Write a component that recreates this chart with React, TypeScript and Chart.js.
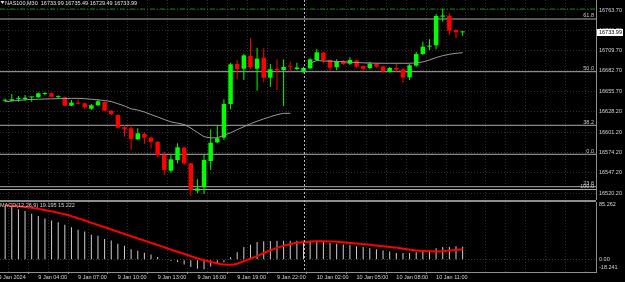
import React, { useEffect, useRef } from "react";
import { Chart, registerables } from "chart.js";

Chart.register(...registerables);

// ---------- data ----------
const symbolTitle = "NAS100,M30  16733.99 16735.49 16729.49 16733.99";
const indicatorTitle = "MACD(12,26,9) 19.195 15.222";

const opens = [
  16643.0, 16643.0, 16645.1, 16645.3, 16647.4, 16647.5, 16651.9, 16652.9, 16647.8, 16647.5,
  16636.4, 16639.9, 16639.5, 16632.4, 16636.9, 16641.3, 16629.7, 16624.0, 16607.6, 16606.3,
  16591.6, 16598.7, 16593.8, 16588.4, 16570.7, 16549.9, 16564.1, 16580.5, 16559.7, 16523.2,
  16527.8, 16562.8, 16587.6, 16593.8, 16638.6, 16691.8, 16685.6, 16702.5, 16685.6, 16700.2,
  16673.6, 16685.2, 16683.9, 16689.2, 16685.2, 16682.1, 16686.1, 16697.2, 16706.9, 16697.2,
  16687.5, 16695.8, 16692.2, 16696.5, 16689.2, 16686.5, 16692.5, 16688.3, 16681.2, 16686.5,
  16684.8, 16674.1, 16689.6, 16705.1, 16714.9, 16716.7, 16754.8, 16756.1, 16737.1, 16733.99,
];
const highs = [
  16645.7, 16651.9, 16649.3, 16650.6, 16648.3, 16653.7, 16654.2, 16653.7, 16650.2, 16648.3,
  16643.9, 16644.9, 16640.3, 16638.6, 16644.9, 16642.2, 16630.6, 16624.6, 16610.7, 16610.7,
  16606.3, 16600.4, 16595.1, 16589.4, 16575.1, 16570.7, 16586.3, 16581.8, 16560.5, 16538.4,
  16572.1, 16604.9, 16609.3, 16644.9, 16693.6, 16697.2, 16704.7, 16726.0, 16713.5, 16712.7,
  16691.8, 16698.1, 16698.1, 16694.9, 16693.6, 16688.3, 16699.4, 16711.4, 16708.2, 16698.1,
  16698.1, 16697.2, 16700.8, 16697.6, 16690.1, 16694.9, 16693.6, 16690.1, 16688.3, 16692.8,
  16686.1, 16691.8, 16708.2, 16721.5, 16724.7, 16758.4, 16765.0, 16759.3, 16738.0, 16735.49,
];
const lows = [
  16641.3, 16642.2, 16641.7, 16643.0, 16641.7, 16646.6, 16650.2, 16647.5, 16645.3, 16636.0,
  16636.0, 16638.6, 16631.6, 16630.6, 16636.0, 16628.9, 16623.6, 16606.7, 16595.1, 16577.4,
  16590.7, 16585.4, 16579.7, 16568.5, 16544.1, 16547.2, 16559.7, 16557.4, 16516.6, 16519.8,
  16518.8, 16550.8, 16586.3, 16590.7, 16631.6, 16671.9, 16670.6, 16684.8, 16656.3, 16667.5,
  16661.6, 16657.2, 16636.0, 16681.6, 16683.9, 16680.3, 16684.8, 16696.2, 16692.8, 16682.9,
  16683.9, 16690.5, 16690.5, 16686.5, 16682.9, 16684.8, 16686.5, 16680.3, 16680.3, 16681.6,
  16667.0, 16670.6, 16688.3, 16703.8, 16710.5, 16711.4, 16748.1, 16730.4, 16726.0, 16729.49,
];
const closes = [
  16644.3, 16644.9, 16645.5, 16647.0, 16647.6, 16652.9, 16652.9, 16648.3, 16648.0, 16636.4,
  16640.3, 16639.0, 16634.2, 16636.9, 16642.2, 16629.7, 16625.3, 16607.1, 16604.9, 16592.0,
  16599.6, 16593.8, 16588.4, 16570.3, 16550.8, 16565.0, 16581.0, 16559.7, 16524.2, 16526.4,
  16564.1, 16587.1, 16593.0, 16638.6, 16691.4, 16685.2, 16703.4, 16687.5, 16698.9, 16673.6,
  16684.8, 16683.5, 16687.9, 16688.3, 16687.2, 16686.5, 16698.1, 16707.4, 16697.2, 16686.9,
  16695.4, 16691.8, 16697.2, 16688.3, 16685.6, 16692.5, 16688.3, 16682.1, 16686.5, 16684.3,
  16673.9, 16690.1, 16705.1, 16714.9, 16716.2, 16755.7, 16756.4, 16736.2, 16734.0, 16733.99,
];
const maValues: (number | null)[] = [
  16641.5, 16642.6, 16643.4, 16644.2, 16644.7, 16645.0, 16645.3, 16645.5, 16645.7, 16645.9,
  16646.1, 16646.2, 16645.7, 16644.9, 16644.1, 16643.3, 16641.9, 16639.0, 16636.0, 16632.2,
  16630.6, 16628.0, 16624.6, 16621.4, 16618.0, 16614.8, 16613.1, 16611.3, 16606.7, 16600.7,
  16595.1, 16593.5, 16593.6, 16597.0, 16600.3, 16604.5, 16608.3, 16612.4, 16615.7, 16618.8,
  16621.7, 16624.4, 16626.2, 16626.2, null, null, 16692.8, 16696.5, 16695.8, 16695.6,
  16695.2, 16694.8, 16694.2, 16693.8, 16693.4, 16693.2, 16692.9, 16692.8, 16692.8, 16692.8,
  16692.8, 16692.8, 16693.4, 16694.6, 16697.2, 16700.4, 16702.9, 16704.7, 16706.1, 16706.9,
];
const macdValues = [
  79.5, 78.0, 74.4, 72.0, 67.9, 64.4, 60.8, 57.8, 55.4, 51.8,
  47.8, 44.2, 41.8, 36.7, 35.2, 30.6, 28.2, 23.7, 20.7, 15.5,
  13.1, 10.1, 7.5, 4.1, -0.8, -2.0, -3.5, -7.0, -11.0, -13.6,
  -14.0, -10.0, -6.5, -4.0, 3.5, 11.0, 18.6, 22.2, 26.1, 27.2,
  27.5, 27.8, 27.8, 27.8, 28.0, 28.0, 28.0, 28.0, 26.0, 24.6,
  23.6, 22.6, 22.2, 20.0, 18.6, 17.0, 15.5, 13.6, 12.0, 10.0,
  10.0, 10.0, 11.0, 12.0, 13.6, 17.0, 18.6, 18.6, 20.0, 19.195,
];
const signalValues = [
  80.3, 79.7, 78.8, 77.9, 76.7, 75.1, 73.3, 71.4, 69.3, 67.1,
  64.4, 61.1, 57.9, 54.6, 51.3, 48.0, 44.7, 41.3, 38.0, 34.7,
  31.4, 28.2, 24.9, 21.6, 18.3, 14.9, 11.6, 8.5, 5.1, 1.8,
  -0.9, -3.3, -5.6, -7.2, -7.5, -6.0, -2.3, 1.5, 5.3, 9.8,
  13.6, 17.4, 20.4, 22.9, 24.9, 26.1, 26.7, 27.2, 27.2, 26.9,
  26.4, 25.7, 24.7, 23.8, 22.9, 22.0, 20.8, 19.8, 18.9, 17.8,
  16.1, 14.6, 13.6, 12.8, 12.4, 12.1, 12.5, 13.6, 14.3, 15.222,
];
const priceTicks = [16763.7, 16736.7, 16709.7, 16682.7, 16655.7, 16628.2, 16601.2, 16574.2, 16547.2, 16520.2];
const fibPrices = [16751.7, 16681.6, 16610.3, 16571.7, 16528.6, 16524.8];
const fibNames = ["61.8", "50.0", "38.2", "0.0", "23.6", "100.0"];
const timeTickBars = [-1, 5, 11, 17, 23, 29, 35, 41, 47, 53, 59, 65];
const timeTickLabels = [
  "9 Jan 2024", "9 Jan 04:00", "9 Jan 07:00", "9 Jan 10:00", "9 Jan 13:00", "9 Jan 16:00",
  "9 Jan 19:00", "9 Jan 22:00", "10 Jan 02:00", "10 Jan 05:00", "10 Jan 08:00", "10 Jan 11:00",
];
const macdTicks = [85.262, 0, -18.241];
const macdTickLabels = ["85.262", "0.00", "-18.241"];
const dayHighLine = 16765.0;
const markerBar = 45;
const currentPrice = 16733.99;

// ---------- layout / style constants ----------
const X_MIN = -0.777;
const X_MAX = 89.117;
const PRICE_MIN = 16510.9;
const PRICE_MAX = 16777.0;
const AXIS_W = 29;
const FONT_FAMILY = '"Liberation Sans", Arial, sans-serif';
const FONT_SIZE = 5.5;
const FONT = `${FONT_SIZE}px ${FONT_FAMILY}`;
const BULL = "#00ff00";
const BEAR = "#ff0000";
const TEXT = "#d4d4d4";
const FRAME = "#8e8e8e";
const GRID = "#2f2f2f";

const gridBars: number[] = [];
for (let v = -1; v <= 89; v += 3) gridBars.push(v);

function fixY(scale: any) {
  scale.width = AXIS_W;
  scale.paddingTop = 0;
  scale.paddingBottom = 0;
}

export default function App() {
  const mainRef = useRef<HTMLCanvasElement>(null);
  const macdRef = useRef<HTMLCanvasElement>(null);

  useEffect(() => {
    document.body.style.margin = "0";
    document.body.style.background = "#000";

    const isBull = (i: number) => closes[i] >= opens[i];
    const colorOf = (c: any) => (isBull(c.dataIndex) ? BULL : BEAR);

    const wicks = opens.map((_, i) => ({ x: i, y: [lows[i], highs[i]] }));
    const bodies = opens.map((_, i) => ({ x: i, y: [opens[i], closes[i]] }));
    const ma = maValues.map((v, i) => ({ x: i, y: v }));
    const hist = macdValues.map((v, i) => ({ x: i, y: v }));
    const sig = signalValues.map((v, i) => ({ x: i, y: v }));

    const xCommon = (showLabels: boolean) => ({
      type: "linear" as const,
      position: "bottom" as const,
      min: X_MIN,
      max: X_MAX,
      offset: false,
      afterBuildTicks: (s: any) => {
        s.ticks = gridBars.map((v) => ({ value: v }));
      },
      afterFit: (s: any) => {
        s.height = showLabels ? 10 : 0;
        s.paddingLeft = 0;
        s.paddingRight = 0;
      },
      ticks: {
        display: showLabels,
        autoSkip: false,
        maxRotation: 0,
        minRotation: 0,
        align: "start" as const,
        padding: 0,
        color: TEXT,
        font: { family: FONT_FAMILY, size: FONT_SIZE },
        callback: (v: any) => {
          const k = timeTickBars.indexOf(Number(v));
          return k >= 0 ? timeTickLabels[k] : "";
        },
      },
      grid: {
        color: GRID,
        lineWidth: 1,
        drawTicks: showLabels,
        tickLength: 2,
        tickColor: (c: any) =>
          c.tick && timeTickBars.indexOf(c.tick.value) >= 0 ? FRAME : "rgba(0,0,0,0)",
      },
      border: { display: showLabels, color: FRAME, width: 1, dash: [1, 2] },
    });

    const mainOverlay = {
      id: "mainOverlay",
      afterDatasetsDraw(chart: any) {
        const { ctx, chartArea, scales } = chart;
        const xs = scales.x;
        const ys = scales.y;
        ctx.save();
        const mx = Math.round(xs.getPixelForValue(markerBar)) + 0.5;
        ctx.strokeStyle = "#b8b8b8";
        ctx.lineWidth = 1;
        ctx.setLineDash([2, 2]);
        ctx.beginPath();
        ctx.moveTo(mx, chartArea.top);
        ctx.lineTo(mx, chartArea.bottom);
        ctx.stroke();
        ctx.setLineDash([]);
        ctx.font = FONT;
        ctx.fillStyle = "#c8c8c8";
        ctx.textAlign = "right";
        ctx.textBaseline = "bottom";
        fibPrices.forEach((p, k) => {
          ctx.fillText(fibNames[k], chartArea.right - 2, ys.getPixelForValue(p) - 0.3);
        });
        ctx.fillStyle = "#e0e0e0";
        ctx.beginPath();
        ctx.moveTo(0.5, 1);
        ctx.lineTo(4.5, 1);
        ctx.lineTo(2.5, 4);
        ctx.closePath();
        ctx.fill();
        ctx.textAlign = "left";
        ctx.textBaseline = "middle";
        ctx.fillText(symbolTitle, 5, 3);
        ctx.restore();
      },
      afterDraw(chart: any) {
        const { ctx, scales } = chart;
        const yp = scales.y.getPixelForValue(currentPrice);
        ctx.save();
        ctx.fillStyle = "#ffffff";
        ctx.fillRect(597, Math.round(yp) - 3, 26, 7);
        ctx.fillStyle = "#000000";
        ctx.font = FONT;
        ctx.textAlign = "left";
        ctx.textBaseline = "middle";
        ctx.fillText(currentPrice.toFixed(2), 599, Math.round(yp) + 0.5);
        ctx.restore();
      },
    };

    const macdOverlay = {
      id: "macdOverlay",
      afterDatasetsDraw(chart: any) {
        const { ctx, chartArea, scales } = chart;
        const xs = scales.x;
        const ys = scales.y;
        ctx.save();
        ctx.fillStyle = FRAME;
        ctx.fillRect(0, 0, chartArea.right, 2);
        const mx = Math.round(xs.getPixelForValue(markerBar)) + 0.5;
        ctx.strokeStyle = "#b8b8b8";
        ctx.lineWidth = 1;
        ctx.setLineDash([2, 2]);
        ctx.beginPath();
        ctx.moveTo(mx, 0);
        ctx.lineTo(mx, chartArea.bottom);
        ctx.stroke();
        ctx.setLineDash([]);
        ctx.font = FONT;
        ctx.fillStyle = TEXT;
        ctx.textAlign = "left";
        ctx.textBaseline = "middle";
        ctx.fillText(indicatorTitle, 0, 5.5);
        const offs = [2, 0, -5];
        macdTicks.forEach((v, k) => {
          ctx.fillText(macdTickLabels[k], chartArea.right + 3, ys.getPixelForValue(v) + offs[k]);
        });
        ctx.restore();
      },
    };

    const fibSets = fibPrices.map((p) => ({
      type: "line" as const,
      data: [
        { x: X_MIN, y: p },
        { x: X_MAX, y: p },
      ],
      borderColor: "#acacac",
      borderWidth: 1,
      pointRadius: 0,
      order: 10,
    }));

    const main = new Chart(mainRef.current!, {
      type: "bar",
      data: {
        datasets: [
          ...fibSets,
          {
            type: "line",
            data: [
              { x: X_MIN, y: dayHighLine },
              { x: X_MAX, y: dayHighLine },
            ],
            borderColor: "#0b8a0b",
            borderWidth: 1,
            borderDash: [5, 2, 1, 2],
            pointRadius: 0,
            order: 9,
          },
          {
            type: "bar",
            data: wicks as any,
            backgroundColor: colorOf,
            barThickness: 1,
            grouped: false,
            borderWidth: 0,
            inflateAmount: 0,
            order: 5,
          },
          {
            type: "bar",
            data: bodies as any,
            backgroundColor: colorOf,
            barThickness: 4.5,
            minBarLength: 1,
            grouped: false,
            borderWidth: 0,
            inflateAmount: 0,
            order: 4,
          },
          {
            type: "line",
            data: ma as any,
            borderColor: "#9a9a9a",
            borderWidth: 1,
            pointRadius: 0,
            spanGaps: false,
            order: 3,
          },
        ] as any,
      },
      options: {
        responsive: false,
        animation: false,
        events: [],
        layout: { padding: 0 },
        plugins: { legend: { display: false }, tooltip: { enabled: false } },
        scales: {
          x: xCommon(false) as any,
          y: {
            type: "linear",
            position: "right",
            min: PRICE_MIN,
            max: PRICE_MAX,
            afterBuildTicks: (s: any) => {
              s.ticks = priceTicks.map((v) => ({ value: v }));
            },
            afterFit: fixY,
            ticks: {
              padding: 3,
              color: TEXT,
              font: { family: FONT_FAMILY, size: FONT_SIZE },
              callback: (v: any) => Number(v).toFixed(2),
            },
            grid: { color: GRID, lineWidth: 1, drawTicks: false },
            border: { display: true, color: FRAME, width: 1, dash: [1, 2] },
          } as any,
        },
      },
      plugins: [mainOverlay],
    });

    const macd = new Chart(macdRef.current!, {
      type: "bar",
      data: {
        datasets: [
          {
            type: "bar",
            data: hist as any,
            backgroundColor: "#cfcfcf",
            barThickness: 1,
            grouped: false,
            borderWidth: 0,
            inflateAmount: 0,
            order: 5,
          },
          {
            type: "line",
            data: sig as any,
            borderColor: "#ff0000",
            borderWidth: 2,
            pointRadius: 0,
            tension: 0.3,
            order: 2,
          },
        ] as any,
      },
      options: {
        responsive: false,
        animation: false,
        events: [],
        layout: { padding: { top: 2, left: 0, right: 0, bottom: 0 } },
        plugins: { legend: { display: false }, tooltip: { enabled: false } },
        scales: {
          x: xCommon(true) as any,
          y: {
            type: "linear",
            position: "right",
            min: macdTicks[2],
            max: macdTicks[0],
            afterBuildTicks: (s: any) => {
              s.ticks = macdTicks.map((v) => ({ value: v }));
            },
            afterFit: fixY,
            ticks: { display: false },
            grid: {
              color: (c: any) => (c.tick && c.tick.value === 0 ? "#3a3a3a" : "rgba(0,0,0,0)"),
              lineWidth: 1,
              drawTicks: false,
            },
            border: { display: true, color: FRAME, width: 1, dash: [1, 2] },
          } as any,
        },
      },
      plugins: [macdOverlay],
    });

    return () => {
      main.destroy();
      macd.destroy();
    };
  }, []);

  return (
    <div style={{ position: "relative", width: 625, height: 282, background: "#000", overflow: "hidden" }}>
      <canvas ref={mainRef} width={625} height={200} style={{ position: "absolute", left: 0, top: 0, display: "block" }} />
      <canvas ref={macdRef} width={625} height={82} style={{ position: "absolute", left: 0, top: 200, display: "block" }} />
    </div>
  );
}
